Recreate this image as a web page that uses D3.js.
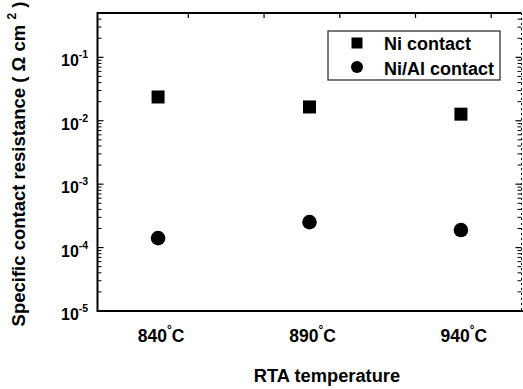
<!DOCTYPE html>
<html><head><meta charset="utf-8">
<script src="https://cdn.jsdelivr.net/npm/d3@7"></script>
<style>
body{margin:0;background:#fff;}
text{font-family:"Liberation Sans",Arial,sans-serif;font-weight:bold;fill:#000;}
</style></head>
<body><svg id="c" width="523" height="389"></svg>
<script>
const temps = [840, 890, 940];
const tempLabels = ["840", "890", "940"];
const niContact = [0.0237, 0.0165, 0.0127];
const niAlContact = [1.41e-4, 2.52e-4, 1.89e-4];
const yDecades = [1e-5, 1e-4, 1e-3, 1e-2, 1e-1];
const yExponents = ["-5", "-4", "-3", "-2", "-1"];
const topTicks = [850, 875, 900, 925, 950];
const seriesNames = ["Ni contact", "Ni/Al contact"];

const svg = d3.select("#c");
const L = 97.5, R = 521.5, T = 13, B = 311;
const x = d3.scaleLinear().domain([820, 960]).range([L, R]);
const y = d3.scaleLog().domain([1e-5, 0.5]).range([B, T]);

const minors = [];
for (let e = -5; e <= -1; e++) for (let m = 2; m <= 9; m++) { const v = m * Math.pow(10, e); if (v <= 0.5) minors.push(v); }

const g = svg.append("g");
g.selectAll(".lmaj").data(yDecades).enter().append("line")
  .attr("x1", L).attr("x2", L + 6).attr("y1", d => y(d)).attr("y2", d => y(d)).attr("stroke", "#000").attr("stroke-width", 1.2);
g.selectAll(".lmin").data(minors).enter().append("line")
  .attr("x1", L).attr("x2", L + 4).attr("y1", d => y(d)).attr("y2", d => y(d)).attr("stroke", "#000").attr("stroke-width", 1);
g.selectAll(".rmaj").data(yDecades).enter().append("line")
  .attr("x1", R).attr("x2", R - 6).attr("y1", d => y(d)).attr("y2", d => y(d)).attr("stroke", "#000").attr("stroke-width", 1.2);
g.selectAll(".rmin").data(minors).enter().append("line")
  .attr("x1", R).attr("x2", R - 4).attr("y1", d => y(d)).attr("y2", d => y(d)).attr("stroke", "#000").attr("stroke-width", 1);
g.selectAll(".tt").data(topTicks).enter().append("line")
  .attr("x1", d => x(d)).attr("x2", d => x(d)).attr("y1", T).attr("y2", T + 5).attr("stroke", "#000").attr("stroke-width", 1.2);

g.append("line").attr("x1", L).attr("x2", R).attr("y1", T).attr("y2", T).attr("stroke", "#000").attr("stroke-width", 2);
g.append("line").attr("x1", L).attr("x2", R + 2).attr("y1", B).attr("y2", B).attr("stroke", "#000").attr("stroke-width", 2);
g.append("line").attr("x1", L).attr("x2", L).attr("y1", T - 1).attr("y2", B + 1).attr("stroke", "#000").attr("stroke-width", 2);
g.append("line").attr("x1", R).attr("x2", R).attr("y1", T).attr("y2", B).attr("stroke", "#000").attr("stroke-width", 1).attr("stroke-dasharray", "2,3");

const yl = g.selectAll(".yl").data(yDecades).enter().append("text")
  .attr("x", 61).attr("y", d => y(d) + 9).attr("font-size", 16);
yl.append("tspan").text("10");
yl.append("tspan").attr("font-size", 10.5).attr("dy", -8).text((d, i) => yExponents[i]);

const xl = g.selectAll(".xl").data(temps).enter().append("text")
  .attr("x", d => x(d) + 3).attr("y", 342).attr("text-anchor", "middle").attr("font-size", 17.5);
xl.append("tspan").text((d, i) => tempLabels[i]);
xl.append("tspan").attr("font-size", 12).attr("dy", -8).text("°");
xl.append("tspan").attr("dy", 8).text("C");

const s = 13;
g.selectAll(".sq").data(temps).enter().append("rect")
  .attr("x", d => x(d) - s / 2).attr("y", (d, i) => y(niContact[i]) - s / 2)
  .attr("width", s).attr("height", s).attr("fill", "#000");
g.selectAll(".ci").data(temps).enter().append("circle")
  .attr("cx", d => x(d)).attr("cy", (d, i) => y(niAlContact[i])).attr("r", 7.3).attr("fill", "#000");

const lg = g.append("g");
lg.append("rect").attr("x", 328).attr("y", 31).attr("width", 172).attr("height", 49)
  .attr("fill", "#fff").attr("stroke", "#222").attr("stroke-width", 1.2);
lg.append("rect").attr("x", 357 - 5.5).attr("y", 43 - 5.5).attr("width", 11).attr("height", 11).attr("fill", "#000");
lg.append("circle").attr("cx", 357).attr("cy", 67).attr("r", 6).attr("fill", "#000");
lg.selectAll(".lt").data(seriesNames).enter().append("text")
  .attr("x", 384).attr("y", (d, i) => 50 + i * 25).attr("font-size", 18).text(d => d);

svg.append("text").attr("x", 327).attr("y", 382).attr("text-anchor", "middle").attr("font-size", 18.3).text("RTA temperature");
const yt = svg.append("text").attr("transform", "translate(25,164) rotate(-90)").attr("text-anchor", "middle").attr("font-size", 18.5);
yt.append("tspan").text("Specific contact resistance ( Ω  cm ");
yt.append("tspan").attr("font-size", 12).attr("dy", -9).text("2");
yt.append("tspan").attr("dy", 9).text("  )");
</script></body></html>
